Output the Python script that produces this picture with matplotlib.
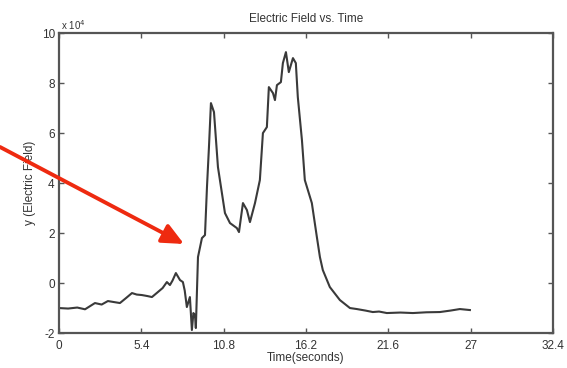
import matplotlib
matplotlib.use("Agg")
import matplotlib.pyplot as plt
from matplotlib.ticker import FixedLocator

# Electric field trace (values in units of 1e4)
time_s = [0.0, 0.6, 1.2, 1.71, 2.36, 2.8, 3.21, 3.6, 4.0, 4.4, 4.79, 5.1, 5.44,
          5.8, 6.10, 6.49, 6.8, 7.08, 7.28, 7.45, 7.67, 7.94, 8.13, 8.25, 8.39,
          8.59, 8.72, 8.82, 8.92, 8.98, 9.12, 9.38, 9.58, 9.71, 9.84, 9.97,
          10.17, 10.43, 10.89, 11.22, 11.67, 11.81, 12.07, 12.33, 12.53, 12.86,
          13.18, 13.38, 13.64, 13.77, 14.04, 14.17, 14.30, 14.56, 14.69, 14.89,
          15.08, 15.35, 15.54, 15.67, 15.94, 16.13, 16.59, 16.92, 17.12, 17.31,
          17.77, 18.43, 19.09, 19.54, 20.1, 20.59, 21.0, 21.51, 22.4, 23.22,
          24.1, 24.99, 25.7, 26.30, 26.96]
field_e4 = [-1.0, -1.02, -0.98, -1.05, -0.8, -0.86, -0.72, -0.76, -0.8, -0.6,
            -0.4, -0.46, -0.48, -0.52, -0.56, -0.36, -0.2, 0.04, -0.08, 0.1,
            0.4, 0.12, 0.04, -0.3, -0.96, -0.56, -1.88, -1.2, -1.28, -1.8,
            1.04, 1.8, 1.92, 3.84, 5.44, 7.2, 6.84, 4.64, 2.8, 2.4, 2.2, 2.04,
            3.2, 2.92, 2.44, 3.2, 4.12, 6.0, 6.24, 7.84, 7.6, 7.32, 7.92, 8.04,
            8.8, 9.24, 8.44, 9.0, 8.8, 7.44, 5.72, 4.12, 3.2, 1.84, 1.04, 0.52,
            -0.16, -0.68, -1.0, -1.04, -1.1, -1.16, -1.14, -1.2, -1.18, -1.2,
            -1.17, -1.16, -1.1, -1.04, -1.08]

x_ticks = [0, 5.4, 10.8, 16.2, 21.6, 27, 32.4]
x_tick_labels = ["0", "5.4", "10.8", "16.2", "21.6", "27", "32.4"]
y_ticks = [-2, 0, 2, 4, 6, 8, 10]
y_tick_labels = ["-2", "0", "2", "4", "6", "8", "10"]

plt.rcParams["font.family"] = ["Liberation Sans", "DejaVu Sans"]

fig = plt.figure(figsize=(5.67, 3.68), dpi=100)
ax = fig.add_axes([0.104, 0.095, 0.871, 0.815])

ax.plot(time_s, field_e4, color="#3a3a3a", linewidth=1.5)

ax.set_xlim(0, 32.4)
ax.set_ylim(-2, 10)
ax.xaxis.set_major_locator(FixedLocator(x_ticks))
ax.set_xticklabels(x_tick_labels)
ax.yaxis.set_major_locator(FixedLocator(y_ticks))
ax.set_yticklabels(y_tick_labels)

axis_gray = "#555555"
for sp in ax.spines.values():
    sp.set_color(axis_gray)
    sp.set_linewidth(1.6)
ax.tick_params(direction="in", top=True, right=True, length=3.5, width=1.0,
               colors=axis_gray, labelsize=8.5, labelcolor="#333333", pad=3)
ax.tick_params(axis="x", pad=5)

ax.set_title("Electric Field vs. Time", fontsize=8.5, color="#333333", pad=8)
ax.set_xlabel("Time(seconds)", fontsize=8.5, color="#333333", labelpad=0)
ax.set_ylabel("y (Electric Field)", fontsize=8.5, color="#333333", labelpad=4)

# exponent marker for the y axis
ax.text(0.005, 1.005, r"x 10$^4$", transform=ax.transAxes, fontsize=7,
        color="#333333", ha="left", va="bottom")

# red pointer arrow
ax.annotate("", xy=(184 / 567, 1 - 244 / 368), xycoords="figure fraction",
            xytext=(0.0, 1 - 147 / 368), textcoords="figure fraction",
            arrowprops=dict(arrowstyle="-|>,head_length=1.3,head_width=0.6",
                            color="#ee2a10", lw=2.8, shrinkA=0, shrinkB=0),
            annotation_clip=False)

fig.savefig("out.png", dpi=100)
